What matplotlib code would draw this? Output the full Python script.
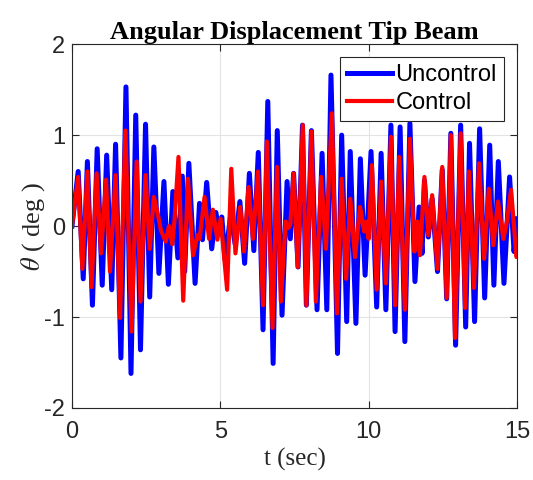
import matplotlib
matplotlib.use("Agg")
import matplotlib.pyplot as plt

# extrema (time in s, angle in deg)
t_unc = [0.0, 0.21, 0.38, 0.52, 0.69, 0.85, 1.02, 1.17, 1.34, 1.47, 1.65, 1.82, 1.99,
         2.15, 2.31, 2.48, 2.62, 2.76, 2.93, 3.10, 3.25, 3.40, 3.57, 3.72, 3.80, 3.94,
         4.15, 4.30, 4.40, 4.54, 4.71, 4.85, 4.95, 5.05, 5.16, 5.35, 5.50, 5.66, 5.82,
         5.98, 6.13, 6.28, 6.44, 6.60, 6.78, 6.92, 7.08, 7.25, 7.36, 7.47, 7.62, 7.77,
         7.90, 8.07, 8.26, 8.43, 8.59, 8.73, 8.95, 9.09, 9.26, 9.38, 9.57, 9.72, 9.88,
         10.08, 10.27, 10.42, 10.58, 10.75, 10.89, 11.06, 11.22, 11.39, 11.56, 11.70,
         11.80, 11.88, 12.01, 12.14, 12.32, 12.48, 12.63, 12.77, 12.93, 13.10, 13.27,
         13.40, 13.57, 13.74, 13.91, 14.08, 14.22, 14.37, 14.56, 14.75, 14.90, 15.0]
v_unc = [0.0, 0.60, -0.58, 0.71, -0.87, 0.85, -0.65, 0.78, -0.70, 0.90, -1.45, 1.53, -1.62,
         1.22, -1.36, 1.12, -0.78, 0.87, -0.52, 0.49, -0.64, 0.38, -0.35, 0.55, -0.50, 0.69,
         -0.63, 0.25, -0.15, 0.48, -0.25, 0.15, -0.05, 0.10, -0.37, 0.12, -0.20, 0.27, -0.41,
         0.58, -0.27, 0.81, -1.14, 1.37, -1.51, 1.05, -0.98, 0.49, -0.14, 0.58, -0.45, 1.11,
         -0.87, 1.05, -0.92, 0.80, -0.92, 1.66, -1.40, 1.00, -1.05, 0.82, -1.07, 0.74, -0.54,
         0.82, -0.89, 0.80, -0.92, 1.11, -1.16, 1.09, -1.27, 1.13, -0.61, 0.21,
         -0.30, 0.50, -0.12, 0.30, -0.50, 0.62, -0.80, 1.02, -1.31, 1.11, -1.11,
         0.91, -1.05, 1.07, -0.79, 0.89, -0.65, 0.71, -0.63, 0.54, -0.28, 0.08]

t_con = [0.0, 0.21, 0.35, 0.52, 0.66, 0.83, 0.98, 1.15, 1.28, 1.47, 1.62, 1.80, 2.01,
         2.18, 2.31, 2.48, 2.62, 2.76, 2.90, 3.00, 3.16, 3.27, 3.38, 3.46, 3.59, 3.75,
         3.91, 4.08, 4.23, 4.30, 4.47, 4.62, 4.75, 4.90, 5.01, 5.23, 5.37, 5.51, 5.67,
         5.80, 5.95, 6.10, 6.27, 6.44, 6.57, 6.76, 6.91, 7.04, 7.20, 7.30, 7.36, 7.47,
         7.61, 7.78, 7.90, 8.07, 8.22, 8.40, 8.56, 8.76, 8.93, 9.09, 9.24, 9.38, 9.54,
         9.71, 9.85, 9.92, 10.0, 10.11, 10.27, 10.42, 10.58, 10.75, 10.89, 11.03, 11.22,
         11.39, 11.54, 11.64, 11.73, 11.88, 12.01, 12.14, 12.32, 12.48, 12.63, 12.77,
         12.91, 13.10, 13.25, 13.38, 13.55, 13.72, 13.89, 14.05, 14.20, 14.36, 14.54,
         14.66, 14.80, 14.98, 15.0]
v_con = [0.0, 0.54, -0.47, 0.60, -0.67, 0.58, -0.30, 0.51, -0.50, 0.56, -1.01, 1.05, -1.16,
         0.71, -0.83, 0.56, -0.25, 0.32, 0.12, -0.05, -0.17, 0.0, -0.20, 0.08, 0.76, -0.82,
         0.52, -0.32, -0.10, -0.14, 0.32, -0.14, 0.18, -0.15, 0.08, -0.70, 0.63, -0.30, 0.21,
         -0.28, 0.43, -0.14, 0.60, -0.87, 0.93, -1.12, 0.65, -0.83, 0.05, -0.02, 0.02, 0.58,
         -0.45, 1.11, -0.87, 1.04, -0.83, 0.54, -0.25, 1.24, -0.96, 0.52, -0.58, 0.30, -0.34,
         0.21, -0.06, 0.05, -0.14, 0.67, -0.70, 0.49, -0.63, 0.98, -0.87, 0.76, -0.92,
         0.96, -0.28, 0.05, -0.32, 0.54, -0.10, 0.34, -0.47, 0.65, -0.79, 1.00,
         -1.23, 1.02, -0.90, 0.60, -0.68, 0.69, -0.36, 0.41, -0.21, 0.27, -0.14,
         0.05, 0.40, -0.34, -0.33]

x_ticks = [0, 5, 10, 15]
y_ticks = [-2, -1, 0, 1, 2]

plt.rcParams['mathtext.fontset'] = 'stix'
plt.rcParams['axes.unicode_minus'] = False
fig = plt.figure(figsize=(5.33, 4.8), dpi=100)
ax = fig.add_axes([0.135, 0.15, 0.835, 0.758])

ax.plot(t_unc, v_unc, color='#0000ff', lw=3.6, label='Uncontrol')
ax.plot(t_con, v_con, color='#ff0000', lw=3.0, label='Control')

ax.set_xlim(0, 15)
ax.set_ylim(-2, 2)
ax.set_xticks(x_ticks)
ax.set_yticks(y_ticks)
ax.grid(True, color='#e3e3e3', lw=0.8)
ax.tick_params(direction='in', top=True, right=True, length=5, width=0.8,
               colors='#262626', labelsize=17)
ax.tick_params(axis='x', pad=9)
ax.tick_params(axis='y', pad=5)
for lab in ax.get_xticklabels() + ax.get_yticklabels():
    lab.set_fontfamily('Liberation Sans')
    lab.set_color('#262626')
for s in ax.spines.values():
    s.set_color('#262626')
    s.set_linewidth(0.8)

ax.set_title('Angular Displacement Tip Beam', family='Liberation Serif',
             fontweight='bold', fontsize=19, pad=4)
ax.set_xlabel('t (sec)', family='Liberation Serif', fontsize=18, color='#262626', labelpad=4)
ax.set_ylabel(r'$\theta$ ( deg )', family='Liberation Serif', fontsize=19,
              color='#262626', labelpad=-2)

leg = ax.legend(loc='upper right', prop={'family': 'Liberation Sans', 'size': 17},
                fancybox=False, framealpha=1, edgecolor='#262626', handlelength=1.9,
                handletextpad=0.15, borderpad=0.3, labelspacing=0.25,
                borderaxespad=0.55)
leg.get_frame().set_linewidth(0.8)

plt.savefig('out.png', dpi=100)
